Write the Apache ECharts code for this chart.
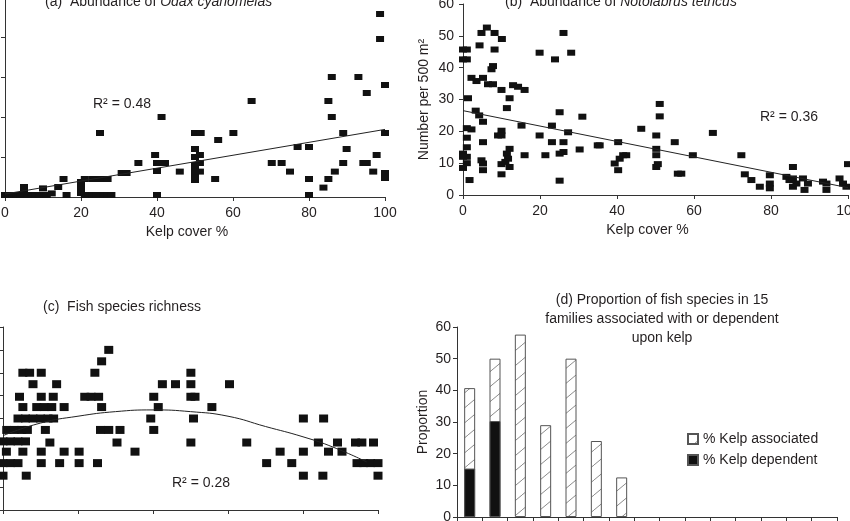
<!DOCTYPE html>
<html>
<head>
<meta charset="utf-8">
<script src="https://cdn.jsdelivr.net/npm/echarts@6/dist/echarts.min.js"></script>
<style>
  html, body { margin: 0; padding: 0; background: #fff; }
  #main { width: 850px; height: 521px; }
</style>
</head>
<body>
<div id="main"></div>
<script>
// (a) Odax cyanomelas vs kelp cover
const odaxPts = [
  [0,0.1],[1,0.1],[2,0.1],[3,0.1],[4,0.1],[5,0.1],[6,0.1],[7,0.1],[8,0.1],[9,0.1],[10,0.1],[11,0.1],
  [5,0.3],[5,0.5],[10,0.43],[12.3,0.18],[14,0.5],[15.4,0.9],[16.2,0.1],
  [20,0.2],[20,0.5],[20,0.75],[21,0.9],[23,0.9],[25,0.9],[27,0.9],
  [21,0.1],[22,0.1],[23,0.1],[24,0.1],[25,0.1],[26,0.1],[27,0.1],[28,0.1],
  [25,3.2],[30.7,1.2],[32,1.2],[35.1,1.7],[39.5,2.1],[40,1.7],[42.1,1.7],[40,1.3],[40,0.1],
  [41.2,4.0],[46,1.27],[50,0.85],[50,1.1],[50,1.3],[50,1.6],[50,2.0],[50,2.4],
  [51.3,2.1],[51.3,1.7],[51.3,1.27],[50,3.2],[51.5,3.2],
  [55.3,0.9],[56.1,2.85],[60.1,3.2],[64.9,4.8],[70.2,1.7],[72.8,1.7],[75,1.27],[77,2.5],
  [80,2.5],[80,0.9],[80,0.1],[83.8,0.47],[85.1,0.9],[85.1,4.8],[86,6.0],[86,4.0],[86.8,1.27],
  [89,3.2],[89,1.7],[89.9,2.4],[93,6.0],[94.3,1.7],[95.2,1.7],[95.2,5.2],[96.9,1.27],[97.8,2.1],
  [98.7,9.15],[98.7,7.9],[100,5.6],[100,3.2],[100,1.2],[100,0.95]
];
const odaxFit = [[0,0.15],[100,3.38]];

// (b) Notolabrus tetricus vs kelp cover
const notoPts = [
  [0,45.7],[1,45.7],[0,42.6],[1,42.6],[1.3,30.4],[1,21],[1,18],[1,15],[1,12],[1,10],
  [0,13],[0,8.5],[0,12],[1.7,4.7],[2.2,20.6],[2.2,36.8],[3.5,35.8],[5.2,36.8],[3.3,26.5],
  [4.2,25],[4.3,47],[4.8,50.9],[5.2,23],[5.2,16.6],[4.8,10.9],[5.2,9.9],[5.2,7.8],
  [6.2,52.6],[6.5,34.8],[7.8,34.8],[7.4,39.5],[7.8,40.5],[8.2,50.9],[8.2,45.7],
  [9.1,18.7],[10,20.2],[10,18.7],[10,9.7],[10,6.5],[10,33],[10.1,49],
  [11.4,27.3],[11.4,13],[11.7,11.4],[12.1,30.4],[12.1,14.5],[12.1,8.8],[11,10.4],
  [13,34.5],[14.3,34],[15.2,21.8],[16,33],[16,12.5],[19.9,18.7],[19.9,44.7],
  [21.4,12.5],[23.1,21.8],[23.1,16.6],[23.9,42.6],[25.1,26],[25.1,13],[25.1,4.5],
  [26.1,50.9],[26.1,16.6],[26.1,13.5],[27.3,19.7],[28.1,44.7],[30.3,14.3],[31,24.6],
  [35,15.6],[35.5,15.6],[40.3,16.6],[39.4,9.9],[40.7,11.4],[40.3,7.8],[41.6,12.5],[42.4,12.5],
  [46.3,20.8],[50.2,18.7],[50.2,14.5],[50.2,12.5],[50.2,8.8],[50.6,9.7],[51.1,28.6],[51.1,24.7],
  [55,16.6],[55.8,6.7],[56.7,6.7],[59.7,12.5],[64.9,19.5],[72.3,12.5],[73.2,6.5],[74.9,4.7],
  [77.1,2.6],[79.7,6.2],[79.7,3.6],[79.7,2.1],[84,5.7],[84.8,4.7],[85.7,5.2],[85.7,8.8],
  [85.7,2.6],[86.6,3.6],[88.3,5.2],[88.7,1.6],[89.6,3.6],[93.5,4.2],[94.4,3.6],[94.4,1.6],
  [97.8,5.2],[98.7,3.6],[99.6,2.6],[100,9.7]
];
const notoFit = [[0,26.5],[100,2.3]];

// (c) fish species richness vs kelp cover
const richPts = [
  [0,6],[2,6],[4,6],[6,6],[0.9,5.1],[5.3,5.1],[0,4.1],[2,4.1],[4,4.1],[0,3],[6.2,3],
  [1,7],[3,7],[5,7],[6.5,7],[4,8],[6,8],[8,8],[10,8],[12,8],[13.5,8],
  [5.3,9],[9,9],[11,9],[13,9],[4.4,9.9],[10.2,9.9],[13.4,9.9],
  [5.3,12],[7.1,12],[10.2,12],[8,11],[14.3,11],[11.3,7],[12.5,5.9],[10.2,5.1],[10.2,4.1],
  [15.1,4.1],[16.3,9],[16.3,5.1],[20.3,5.1],[20.3,4.1],[21.8,9.9],[23.5,9.9],[25.5,9.9],
  [24.5,12],[26.3,13],[28.2,14],[26.3,9],[26,7],[28.2,7],[25.2,4.1],[31.2,7],[30.4,5.9],
  [35.2,5.1],[39.4,8],[40.2,7],[40.2,9.9],[41.4,9],[42.5,11],[46,11],
  [50.1,12],[50.1,11],[50.1,9.9],[51.2,9.9],[50.8,8],[50.1,5.9],[55.7,9],[60.4,11],
  [65,5.9],[70.3,4.1],[73.9,5.1],[77,4.1],[80.1,8],[80.1,5.1],[80.1,3],[84.1,5.9],
  [85.5,8],[86.8,5.1],[85.3,3],[89.2,5.9],[90.4,5.1],[94,5.9],[95.7,5.9],[98.8,5.9],
  [94.4,4.1],[96.2,4.1],[98,4.1],[100,4.1],[100,3]
];
const richCurve = [[0,6.5],[10,7.6],[20,8.2],[30,8.6],[40,8.75],[50,8.6],[60,8.2],[70,7.3],[80,6.4],[88,5.5],[97,4.2]];

// (d) proportion of species per family
const families = ['1','2','3','4','5','6','7','8','9','10','11','12','13','14','15'];
const kelpAssociated = [40.7, 50, 57.6, 29, 50, 24, 12.5, 0, 0, 0, 0, 0, 0, 0, 0];
const kelpDependent = [15.3, 30.3, 0, 0, 0, 0, 0, 0, 0, 0, 0, 0, 0, 0, 0];

const FONT = 'Liberation Sans, Arial, sans-serif';
const INK = '#231f20';

// diagonal hatch for "kelp associated"
const hatch = document.createElement('canvas');
hatch.width = 18; hatch.height = 15;
const g = hatch.getContext('2d');
g.fillStyle = '#fff';
g.fillRect(0, 0, 18, 15);
g.strokeStyle = '#8a8a8a';
g.lineWidth = 1;
g.beginPath();
g.moveTo(-2, 16.67);
g.lineTo(20, -1.67);
g.stroke();

const axisLine = { lineStyle: { color: '#333', width: 1 } };
const tick = { show: true, length: 4, lineStyle: { color: '#333' } };
const lbl = { fontSize: 14, color: INK, fontFamily: FONT };
const dot = { color: '#111', opacity: 1 };

function valX(grid, showLabel) {
  return {
    gridIndex: grid, type: 'value', min: 0, max: 100, interval: 20,
    axisLine: axisLine, axisTick: tick, splitLine: { show: false },
    axisLabel: Object.assign({ show: showLabel, margin: 9 }, lbl),
    name: showLabel ? 'Kelp cover %' : '', nameLocation: 'middle', nameGap: 28,
    nameTextStyle: Object.assign({ padding: [0, 16, 0, 0] }, lbl)
  };
}

// empty bars are left out instead of drawn as flat outlines
const noZero = arr => arr.map(v => (v > 0 ? v : '-'));

var myChart = echarts.init(document.getElementById('main'));

var option = {
  animation: false,
  backgroundColor: '#fff',
  grid: [
    { left: 5, top: -3, width: 380, height: 200, outerBoundsMode: 'none' },
    { left: 463, top: 4, width: 385, height: 191, outerBoundsMode: 'none' },
    { left: 3, top: 327, width: 375, height: 183, outerBoundsMode: 'none' },
    { left: 457, top: 327, width: 380, height: 190, outerBoundsMode: 'none' }
  ],
  xAxis: [
    valX(0, true),
    valX(1, true),
    valX(2, false),
    {
      gridIndex: 3, type: 'category', data: families,
      axisLine: axisLine, axisTick: { show: true, length: 5, lineStyle: { color: '#333' } },
      axisLabel: { show: false }
    }
  ],
  yAxis: [
    {
      gridIndex: 0, type: 'value', min: 0, max: 10, interval: 2,
      axisLine: { show: true, lineStyle: { color: '#333' } }, axisTick: tick,
      axisLabel: { show: false }, splitLine: { show: false }
    },
    {
      gridIndex: 1, type: 'value', min: 0, max: 60, interval: 10,
      axisLine: { show: true, lineStyle: { color: '#333' } }, axisTick: tick,
      axisLabel: Object.assign({ margin: 9 }, lbl), splitLine: { show: false },
      name: 'Number per 500 m²', nameLocation: 'middle', nameGap: 32, nameTextStyle: lbl
    },
    {
      gridIndex: 2, type: 'value', min: 0, max: 16, interval: 2,
      axisLine: { show: true, lineStyle: { color: '#333' } }, axisTick: tick,
      axisLabel: { show: false }, splitLine: { show: false }
    },
    {
      gridIndex: 3, type: 'value', min: 0, max: 60, interval: 10,
      axisLine: { show: true, lineStyle: { color: '#333' } }, axisTick: tick,
      axisLabel: Object.assign({ margin: 6 }, lbl), splitLine: { show: false },
      name: 'Proportion', nameLocation: 'middle', nameGap: 27, nameTextStyle: lbl
    }
  ],
  legend: {
    data: ['% Kelp associated', '% Kelp dependent'],
    orient: 'vertical', left: 682, top: 427,
    itemWidth: 10, itemHeight: 10, itemGap: 7, icon: 'rect',
    textStyle: lbl, selectedMode: false
  },
  series: [
    { type: 'scatter', xAxisIndex: 0, yAxisIndex: 0, data: odaxPts, symbol: 'rect', symbolSize: [8, 6], clip: false, itemStyle: dot },
    { type: 'line', xAxisIndex: 0, yAxisIndex: 0, data: odaxFit, showSymbol: false, lineStyle: { color: '#222', width: 1 } },
    { type: 'scatter', xAxisIndex: 1, yAxisIndex: 1, data: notoPts, symbol: 'rect', symbolSize: [8, 6], clip: false, itemStyle: dot },
    { type: 'line', xAxisIndex: 1, yAxisIndex: 1, data: notoFit, showSymbol: false, lineStyle: { color: '#222', width: 1 } },
    { type: 'scatter', xAxisIndex: 2, yAxisIndex: 2, data: richPts, symbol: 'rect', symbolSize: [9, 8], clip: false, itemStyle: dot },
    { type: 'line', xAxisIndex: 2, yAxisIndex: 2, data: richCurve, smooth: true, showSymbol: false, lineStyle: { color: '#222', width: 1 } },
    {
      name: '% Kelp associated', type: 'bar', xAxisIndex: 3, yAxisIndex: 3, data: noZero(kelpAssociated),
      barWidth: 11, barGap: '-100%',
      itemStyle: { color: { image: hatch, repeat: 'repeat' }, borderColor: '#555', borderWidth: 1 }
    },
    {
      name: '% Kelp dependent', type: 'bar', xAxisIndex: 3, yAxisIndex: 3, data: noZero(kelpDependent),
      barWidth: 11, barGap: '-100%',
      itemStyle: { color: '#111', borderColor: '#555', borderWidth: 1 }
    }
  ],
  graphic: [
    {
      type: 'text', x: 45, y: 2,
      style: {
        text: '{n|(a)  Abundance of }{i|Odax cyanomelas}', verticalAlign: 'middle',
        rich: { n: { fontSize: 14, fontFamily: FONT, fill: INK }, i: { fontSize: 14, fontFamily: FONT, fontStyle: 'italic', fill: INK } }
      }
    },
    {
      type: 'text', x: 505, y: 2,
      style: {
        text: '{n|(b)  Abundance of }{i|Notolabrus tetricus}', verticalAlign: 'middle',
        rich: { n: { fontSize: 14, fontFamily: FONT, fill: INK }, i: { fontSize: 14, fontFamily: FONT, fontStyle: 'italic', fill: INK } }
      }
    },
    {
      type: 'text', x: 43, y: 307,
      style: { text: '(c)  Fish species richness', fontSize: 14, fontFamily: FONT, fill: INK, verticalAlign: 'middle' }
    },
    {
      type: 'text', x: 662, y: 319,
      style: {
        text: '(d) Proportion of fish species in 15\nfamilies associated with or dependent\nupon kelp',
        fontSize: 14, fontFamily: FONT, fill: INK, align: 'center', verticalAlign: 'middle', lineHeight: 19
      }
    },
    { type: 'text', x: 93, y: 104, style: { text: 'R² = 0.48', fontSize: 14, fontFamily: FONT, fill: INK, verticalAlign: 'middle' } },
    { type: 'text', x: 760, y: 117, style: { text: 'R² = 0.36', fontSize: 14, fontFamily: FONT, fill: INK, verticalAlign: 'middle' } },
    { type: 'text', x: 172, y: 483, style: { text: 'R² = 0.28', fontSize: 14, fontFamily: FONT, fill: INK, verticalAlign: 'middle' } }
  ]
};

myChart.setOption(option);
</script>
</body>
</html>
